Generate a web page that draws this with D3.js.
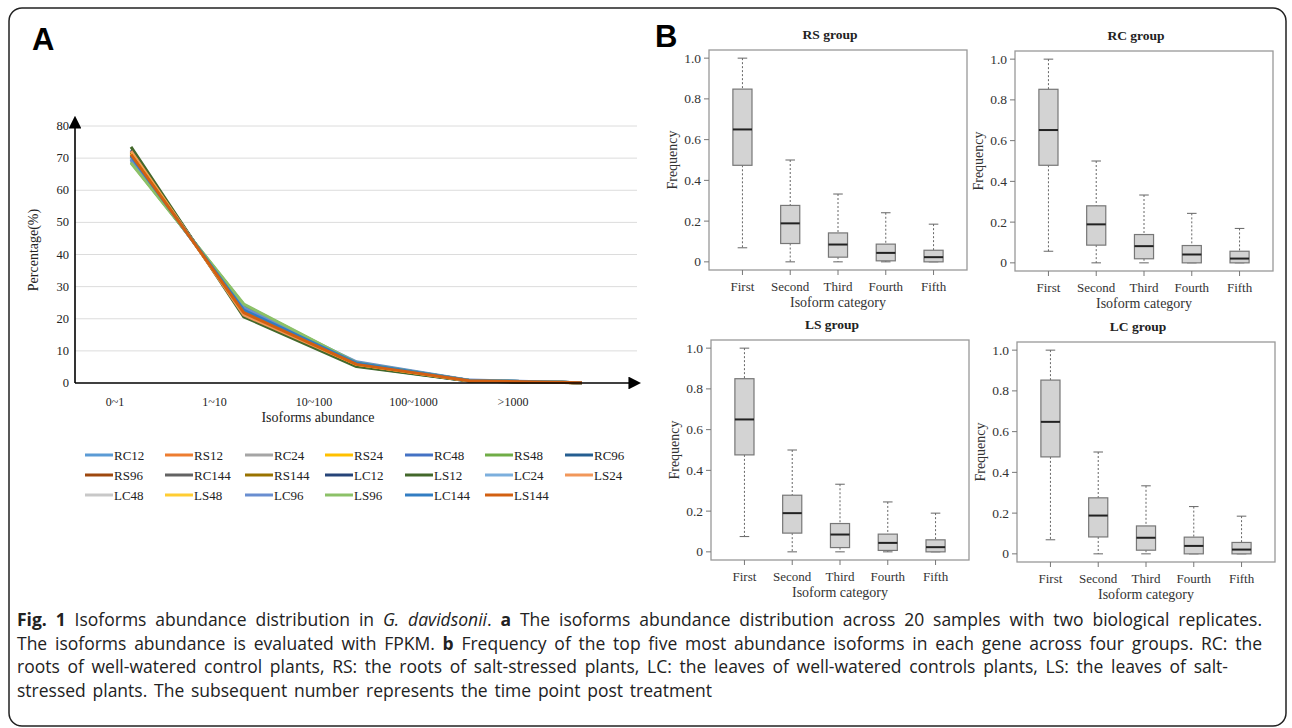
<!DOCTYPE html>
<html>
<head>
<meta charset="utf-8">
<script src="https://cdn.jsdelivr.net/npm/d3@7"></script>
<style>
  body { margin: 0; background: #fff; }
  svg { display: block; }
</style>
</head>
<body>
<script>
// ---- data: panel A ----
var categories = ["0~1", "1~10", "10~100", "100~1000", ">1000"];
var seriesNames = ["RC12", "RS12", "RC24", "RS24", "RC48", "RS48", "RC96",
                   "RS96", "RC144", "RS144", "LC12", "LS12", "LC24", "LS24",
                   "LC48", "LS48", "LC96", "LS96", "LC144", "LS144"];
var seriesColors = ["#5B9BD5", "#ED7D31", "#A5A5A5", "#FFC000", "#4472C4", "#70AD47", "#255E91",
                    "#9E480E", "#636363", "#997300", "#264478", "#43682B", "#7CAFDD", "#F1975A",
                    "#C8C8C8", "#FFCD33", "#698ED0", "#8CC168", "#327DC2", "#D26012"];
var seriesValues = [
  [70.5, 22.5, 6.0, 0.8, 0.1],
  [71.5, 22.0, 5.8, 0.7, 0.1],
  [70.0, 23.0, 6.1, 0.8, 0.1],
  [71.0, 22.3, 5.9, 0.7, 0.1],
  [69.5, 23.5, 6.3, 0.8, 0.1],
  [68.8, 24.3, 6.2, 0.8, 0.1],
  [70.8, 22.6, 5.9, 0.8, 0.1],
  [72.0, 21.5, 5.7, 0.7, 0.1],
  [70.2, 23.0, 6.0, 0.8, 0.1],
  [71.8, 21.8, 5.6, 0.7, 0.1],
  [72.5, 21.3, 5.4, 0.6, 0.1],
  [73.5, 20.6, 5.1, 0.6, 0.1],
  [69.8, 23.2, 6.3, 0.8, 0.1],
  [72.2, 21.2, 5.8, 0.7, 0.1],
  [70.3, 22.8, 6.0, 0.8, 0.1],
  [71.3, 22.1, 5.8, 0.7, 0.1],
  [69.6, 23.4, 6.6, 0.9, 0.1],
  [68.5, 24.6, 6.3, 0.8, 0.1],
  [70.6, 22.7, 6.2, 0.8, 0.1],
  [71.2, 21.9, 5.8, 0.7, 0.1]
];
var yTicksA = [0, 10, 20, 30, 40, 50, 60, 70, 80];

// ---- data: panel B (whisker low, Q1, median, Q3, whisker high) ----
var boxCategories = ["First", "Second", "Third", "Fourth", "Fifth"];
var groupTitles = ["RS group", "RC group", "LS  group", "LC group"];
var rsStats = [[0.069, 0.474, 0.650, 0.848, 1.0], [0, 0.090, 0.189, 0.277, 0.5], [0, 0.023, 0.085, 0.142, 0.333], [0, 0.005, 0.044, 0.087, 0.241], [0, 0, 0.023, 0.057, 0.185]];
var rcStats = [[0.057, 0.479, 0.652, 0.852, 1.0], [0, 0.087, 0.189, 0.280, 0.5], [0, 0.020, 0.082, 0.139, 0.333], [0, 0, 0.041, 0.085, 0.243], [0, 0, 0.021, 0.057, 0.169]];
var lsStats = [[0.075, 0.476, 0.650, 0.850, 1.0], [0, 0.092, 0.190, 0.278, 0.5], [0, 0.021, 0.085, 0.139, 0.332], [0, 0.007, 0.044, 0.087, 0.245], [0, 0, 0.023, 0.059, 0.190]];
var lcStats = [[0.069, 0.476, 0.648, 0.853, 1.0], [0, 0.083, 0.188, 0.275, 0.5], [0, 0.018, 0.079, 0.137, 0.334], [0, 0, 0.039, 0.082, 0.232], [0, 0, 0.021, 0.056, 0.185]];
var yTicksB = [0, 0.2, 0.4, 0.6, 0.8, 1.0];
var yTickLabelsB = ["0", "0.2", "0.4", "0.6", "0.8", "1.0"];

var SERIF = "'Liberation Serif', 'Times New Roman', serif";
var W = 1292, H = 728;
var svg = d3.select("body").append("svg").attr("width", W).attr("height", H);

// outer rounded frame
svg.append("rect")
  .attr("x", 9).attr("y", 8).attr("width", 1277).attr("height", 718)
  .attr("rx", 13).attr("fill", "none").attr("stroke", "#222").attr("stroke-width", 1.5);

// panel letters
svg.append("text").attr("x", 32).attr("y", 50)
  .style("font-family", "'Liberation Sans', Arial, sans-serif").style("font-weight", "bold")
  .style("font-size", "31px").text("A");
svg.append("text").attr("x", 655).attr("y", 47)
  .style("font-family", "'Liberation Sans', Arial, sans-serif").style("font-weight", "bold")
  .style("font-size", "31px").text("B");

// ================= Panel A: line chart =================
var a = { left: 75, right: 637, top: 126, bottom: 383 };
var xA = d3.scalePoint().domain(categories).range([131, 582]);
var xLab = d3.scalePoint().domain(categories).range([115, 513]);
var yA = d3.scaleLinear().domain([0, 80]).range([a.bottom, a.top]);

var gA = svg.append("g").style("font-family", SERIF);

// gridlines
gA.selectAll(".grid").data(yTicksA.slice(1)).enter().append("line")
  .attr("x1", a.left).attr("x2", a.right)
  .attr("y1", function(d) { return yA(d); }).attr("y2", function(d) { return yA(d); })
  .attr("stroke", "#dcdcdc").attr("stroke-width", 1);

// y tick labels
gA.selectAll(".ytl").data(yTicksA).enter().append("text")
  .attr("x", 69).attr("y", function(d) { return yA(d) + 4; })
  .attr("text-anchor", "end").style("font-size", "12.5px").attr("fill", "#222")
  .text(function(d) { return d; });

// lines
var line = d3.line()
  .x(function(d, i) { return xA(categories[i]); })
  .y(function(d) { return yA(d); });
gA.selectAll(".series").data(seriesValues).enter().append("path")
  .attr("d", line).attr("fill", "none")
  .attr("stroke", function(d, i) { return seriesColors[i]; })
  .attr("stroke-width", 3).attr("stroke-linejoin", "round");

// axes with arrows
var defs = svg.append("defs");
defs.append("marker").attr("id", "arrow").attr("viewBox", "0 0 10 10")
  .attr("refX", 2).attr("refY", 5).attr("markerWidth", 8).attr("markerHeight", 8)
  .attr("orient", "auto")
  .append("path").attr("d", "M0,0 L10,5 L0,10 z").attr("fill", "#000");
gA.append("line").attr("x1", a.left).attr("x2", a.left).attr("y1", a.bottom).attr("y2", a.top)
  .attr("stroke", "#000").attr("stroke-width", 1.6).attr("marker-end", "url(#arrow)");
gA.append("line").attr("x1", a.left).attr("x2", a.right - 6).attr("y1", a.bottom).attr("y2", a.bottom)
  .attr("stroke", "#000").attr("stroke-width", 1.6).attr("marker-end", "url(#arrow)");

// x labels
gA.selectAll(".xtl").data(categories).enter().append("text")
  .attr("x", function(d) { return xLab(d); }).attr("y", 406)
  .attr("text-anchor", "middle").style("font-size", "12px").attr("fill", "#222")
  .text(function(d) { return d; });
gA.append("text").attr("x", 318).attr("y", 422).attr("text-anchor", "middle")
  .style("font-size", "14px").attr("fill", "#222").text("Isoforms abundance");
gA.append("text").attr("transform", "translate(38,250) rotate(-90)")
  .attr("text-anchor", "middle").style("font-size", "14px").attr("fill", "#222")
  .text("Percentage(%)");

// legend
var leg = gA.selectAll(".leg").data(seriesNames).enter().append("g")
  .attr("transform", function(d, i) {
    return "translate(" + (85 + (i % 7) * 80) + "," + (455 + Math.floor(i / 7) * 20) + ")";
  });
leg.append("line").attr("x1", 0).attr("x2", 28).attr("y1", 0).attr("y2", 0)
  .attr("stroke", function(d, i) { return seriesColors[i]; }).attr("stroke-width", 3);
leg.append("text").attr("x", 29).attr("y", 4.5).style("font-size", "13px").attr("fill", "#222")
  .text(function(d) { return d; });

// ================= Panel B: box plots =================
var panels = [
  { x: 709, y: 50, title: groupTitles[0], stats: rsStats, xTitle: "Isoform category" },
  { x: 1015, y: 51, title: groupTitles[1], stats: rcStats, xTitle: "Isoform  category" },
  { x: 711, y: 340, title: groupTitles[2], stats: lsStats, xTitle: "Isoform category" },
  { x: 1017, y: 342, title: groupTitles[3], stats: lcStats, xTitle: "Isoform category" }
];
var pw = 258, ph = 220;

panels.forEach(function(p) {
  var g = svg.append("g").style("font-family", SERIF)
    .attr("transform", "translate(" + p.x + "," + p.y + ")");
  var x = d3.scaleLinear().domain([0.3, 5.7]).range([0, pw]);
  var y = d3.scaleLinear().domain([-0.04, 1.04]).range([ph, 0]);
  var bw = x(1.4) - x(1.0);

  g.append("rect").attr("width", pw).attr("height", ph)
    .attr("fill", "none").attr("stroke", "#999").attr("stroke-width", 1.3);

  // y ticks
  g.selectAll(".yt").data(yTicksB).enter().append("line")
    .attr("x1", -5).attr("x2", 0)
    .attr("y1", function(d) { return y(d); }).attr("y2", function(d) { return y(d); })
    .attr("stroke", "#777");
  g.selectAll(".ytl").data(yTicksB).enter().append("text")
    .attr("x", -8).attr("y", function(d) { return y(d) + 4.5; })
    .attr("text-anchor", "end").style("font-size", "13.5px").attr("fill", "#333")
    .text(function(d, i) { return yTickLabelsB[i]; });

  // x ticks
  g.selectAll(".xt").data(boxCategories).enter().append("line")
    .attr("x1", function(d, i) { return x(i + 1); }).attr("x2", function(d, i) { return x(i + 1); })
    .attr("y1", ph).attr("y2", ph + 5).attr("stroke", "#777");
  g.selectAll(".xtl").data(boxCategories).enter().append("text")
    .attr("x", function(d, i) { return x(i + 1); }).attr("y", ph + 21)
    .attr("text-anchor", "middle").style("font-size", "13px").attr("fill", "#333")
    .text(function(d) { return d; });

  // boxes
  var b = g.selectAll(".box").data(p.stats).enter().append("g")
    .attr("transform", function(d, i) { return "translate(" + x(i + 1) + ",0)"; });
  b.append("line").attr("x1", 0).attr("x2", 0)
    .attr("y1", function(d) { return y(d[4]); }).attr("y2", function(d) { return y(d[3]); })
    .attr("stroke", "#666").attr("stroke-dasharray", "2,2");
  b.append("line").attr("x1", 0).attr("x2", 0)
    .attr("y1", function(d) { return y(d[1]); }).attr("y2", function(d) { return y(d[0]); })
    .attr("stroke", "#666").attr("stroke-dasharray", "2,2");
  b.append("line").attr("x1", -bw / 4).attr("x2", bw / 4)
    .attr("y1", function(d) { return y(d[4]); }).attr("y2", function(d) { return y(d[4]); })
    .attr("stroke", "#666");
  b.append("line").attr("x1", -bw / 4).attr("x2", bw / 4)
    .attr("y1", function(d) { return y(d[0]); }).attr("y2", function(d) { return y(d[0]); })
    .attr("stroke", "#666");
  b.append("rect").attr("x", -bw / 2).attr("width", bw)
    .attr("y", function(d) { return y(d[3]); })
    .attr("height", function(d) { return y(d[1]) - y(d[3]); })
    .attr("fill", "#d3d3d3").attr("stroke", "#777").attr("stroke-width", 1.2);
  b.append("line").attr("x1", -bw / 2).attr("x2", bw / 2)
    .attr("y1", function(d) { return y(d[2]); }).attr("y2", function(d) { return y(d[2]); })
    .attr("stroke", "#222").attr("stroke-width", 2);

  // titles
  g.append("text").attr("x", pw / 2 - 8).attr("y", -11).attr("text-anchor", "middle")
    .style("font-size", "13.5px").style("font-weight", "bold").attr("fill", "#222").text(p.title);
  g.append("text").attr("x", pw / 2).attr("y", ph + 37).attr("text-anchor", "middle")
    .style("font-size", "14px").attr("fill", "#333").text(p.xTitle);
  g.append("text").attr("transform", "translate(-32," + (ph / 2) + ") rotate(-90)")
    .attr("text-anchor", "middle").style("font-size", "14px").attr("fill", "#333").text("Frequency");
});

// ================= caption =================
// lines are fitted to the reference widths through word spacing
var capLines = [
  [["Fig. 1", "b"], [" Isoforms abundance distribution in ", "n"], ["G. davidsonii", "i"], [". ", "n"], ["a", "b"],
   [" The isoforms abundance distribution across 20 samples with two biological replicates.", "n"]],
  [["The isoforms abundance is evaluated with FPKM. ", "n"], ["b", "b"],
   [" Frequency of the top five most abundance isoforms in each gene across four groups. RC: the", "n"]],
  [["roots of well-watered control plants, RS: the roots of salt-stressed plants, LC: the leaves of well-watered controls plants, LS: the leaves of salt-", "n"]],
  [["stressed plants. The subsequent number represents the time point post treatment", "n"]]
];
var capWidths = [1245, 1245, 1211, 695];
var cap = svg.append("g").style("font-family", "'Open Sans', 'Noto Sans', sans-serif")
  .style("font-size", "17.5px").attr("fill", "#222");
capLines.forEach(function(parts, li) {
  var t = cap.append("text").attr("x", 17).attr("y", 626 + li * 23.5);
  parts.forEach(function(p) {
    var s = t.append("tspan").text(p[0]);
    if (p[1] === "b") s.style("font-weight", "bold");
    if (p[1] === "i") s.style("font-style", "italic");
  });
  var natural = t.node().getComputedTextLength();
  var spaces = parts.map(function(p) { return p[0]; }).join("").split(" ").length - 1;
  var extra = (capWidths[li] - natural) / spaces;
  if (extra > 0) {
    t.style("word-spacing", extra + "px");
  } else {
    t.attr("textLength", capWidths[li]).attr("lengthAdjust", "spacingAndGlyphs");
  }
});
</script>
</body>
</html>
